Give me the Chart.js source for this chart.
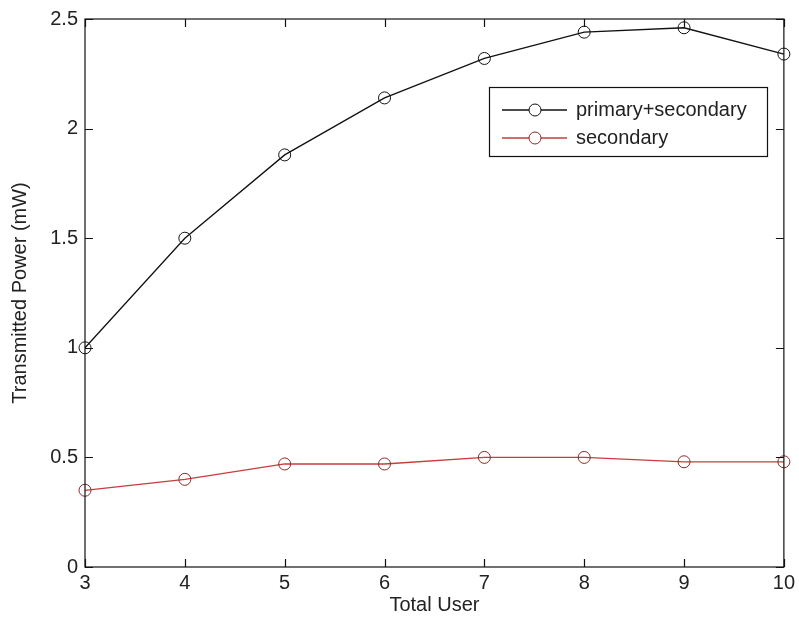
<!DOCTYPE html>
<html>
<head>
<meta charset="utf-8">
<script src="https://cdn.jsdelivr.net/npm/chart.js@4/dist/chart.umd.min.js"></script>
<style>
  html, body { margin: 0; padding: 0; background: #fff; }
  #wrap { width: 799px; height: 624px; }
</style>
</head>
<body>
<div id="wrap"><canvas id="powerChart" width="799" height="624"></canvas></div>
<script>
  // values
  const totalUsers = [3, 4, 5, 6, 7, 8, 9, 10];
  const primarySecondary = [1.0, 1.5, 1.88, 2.14, 2.32, 2.44, 2.46, 2.34];
  const secondaryOnly = [0.35, 0.40, 0.47, 0.47, 0.50, 0.50, 0.48, 0.48];
  const yTicks = [0, 0.5, 1, 1.5, 2, 2.5];
  const seriesNames = ["primary+secondary", "secondary"];

  const FONT = "'Liberation Sans', Arial, sans-serif";
  const TEXT = "#222";

  const toPoints = (vals) => vals.map((v, i) => ({ x: totalUsers[i], y: v }));

  // MATLAB style box with inward ticks on all four sides
  const boxTicks = {
    id: "boxTicks",
    afterDraw(chart) {
      const { ctx, chartArea: a, scales } = chart;
      const len = 8;
      ctx.save();
      ctx.strokeStyle = "#111";
      ctx.lineWidth = 1.2;
      ctx.strokeRect(a.left, a.top, a.right - a.left, a.bottom - a.top);
      ctx.beginPath();
      scales.x.ticks.forEach((t) => {
        const px = Math.round(scales.x.getPixelForValue(t.value)) + 0.5;
        ctx.moveTo(px, a.bottom); ctx.lineTo(px, a.bottom - len);
        ctx.moveTo(px, a.top); ctx.lineTo(px, a.top + len);
      });
      scales.y.ticks.forEach((t) => {
        const py = Math.round(scales.y.getPixelForValue(t.value)) + 0.5;
        ctx.moveTo(a.left, py); ctx.lineTo(a.left + len, py);
        ctx.moveTo(a.right, py); ctx.lineTo(a.right - len, py);
      });
      ctx.stroke();
      ctx.restore();
    },
  };

  // legend box inside the plot, upper right
  const innerLegend = {
    id: "innerLegend",
    afterDraw(chart) {
      const { ctx } = chart;
      const box = { x: 489.5, y: 87.5, w: 278, h: 69 };
      ctx.save();
      ctx.fillStyle = "#fff";
      ctx.fillRect(box.x, box.y, box.w, box.h);
      ctx.strokeStyle = "#111";
      ctx.lineWidth = 1.2;
      ctx.strokeRect(box.x, box.y, box.w, box.h);
      chart.data.datasets.forEach((ds, i) => {
        const cy = 110 + i * 28;
        ctx.strokeStyle = ds.borderColor;
        ctx.lineWidth = ds.borderWidth;
        ctx.beginPath();
        ctx.moveTo(502, cy); ctx.lineTo(567, cy);
        ctx.stroke();
        ctx.beginPath();
        ctx.arc(535, cy, 6, 0, Math.PI * 2);
        ctx.strokeStyle = ds.pointBorderColor;
        ctx.lineWidth = 1;
        ctx.fillStyle = "#fff";
        ctx.fill();
        ctx.stroke();
        ctx.fillStyle = TEXT;
        ctx.font = "20px " + FONT;
        ctx.textBaseline = "middle";
        ctx.textAlign = "left";
        ctx.fillText(ds.label, 576, cy);
      });
      ctx.restore();
    },
  };

  new Chart(document.getElementById("powerChart"), {
    type: "line",
    data: {
      datasets: [
        {
          label: seriesNames[0],
          data: toPoints(primarySecondary),
          borderColor: "#111",
          pointBorderColor: "#111",
        },
        {
          label: seriesNames[1],
          data: toPoints(secondaryOnly),
          borderColor: "#c83c3c",
          pointBorderColor: "#8a2a2a",
        },
      ].map((ds) => Object.assign(ds, {
        borderWidth: 1.3,
        tension: 0,
        fill: false,
        clip: false,
        pointRadius: 6,
        pointBorderWidth: 1,
        pointBackgroundColor: "rgba(0,0,0,0)",
      })),
    },
    options: {
      responsive: false,
      animation: false,
      devicePixelRatio: 1,
      layout: { padding: { top: 17, right: 11, left: 0, bottom: 0 } },
      plugins: { legend: { display: false }, tooltip: { enabled: false } },
      scales: {
        x: {
          type: "linear",
          min: 3,
          max: 10,
          afterFit: (s) => { s.height = 57; },
          afterBuildTicks: (s) => { s.ticks = totalUsers.map((v) => ({ value: v })); },
          grid: { display: false, drawTicks: false },
          border: { display: false },
          ticks: {
            padding: 4,
            color: TEXT,
            font: { family: FONT, size: 20 },
            callback: (v) => String(v),
          },
          title: {
            display: true,
            text: "Total User",
            color: TEXT,
            font: { family: FONT, size: 20 },
            padding: { top: 0, bottom: 7 },
          },
        },
        y: {
          min: 0,
          max: 2.5,
          afterFit: (s) => { s.width = 85; },
          afterBuildTicks: (s) => { s.ticks = yTicks.map((v) => ({ value: v })); },
          grid: { display: false, drawTicks: false },
          border: { display: false },
          ticks: {
            padding: 7,
            color: TEXT,
            font: { family: FONT, size: 20 },
            callback: (v) => String(v),
          },
          title: {
            display: true,
            text: "Transmitted Power (mW)",
            color: TEXT,
            font: { family: FONT, size: 20 },
            padding: { top: 8, bottom: 0 },
          },
        },
      },
    },
    plugins: [boxTicks, innerLegend],
  });
</script>
</body>
</html>
